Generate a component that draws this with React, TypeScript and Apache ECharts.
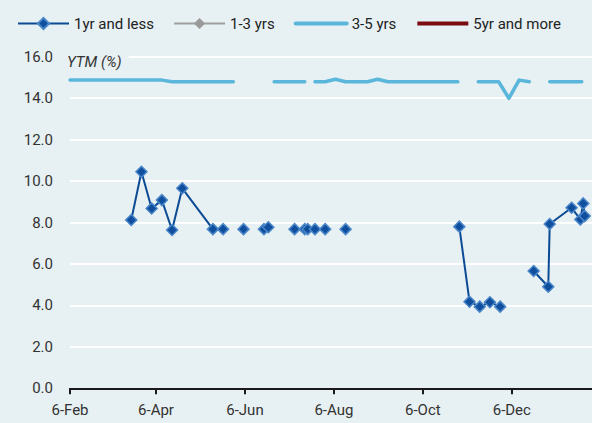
import React, { useEffect, useRef } from "react";
import * as echarts from "echarts";

// ---------- data ----------
const legendNames = ["1yr and less", "1-3 yrs", "3-5 yrs", "5yr and more"];

const xTickDates = ["2017-02-06", "2017-04-06", "2017-06-06", "2017-08-06", "2017-10-06", "2017-12-06"];
const monthNames = ["Jan", "Feb", "Mar", "Apr", "May", "Jun", "Jul", "Aug", "Sep", "Oct", "Nov", "Dec"];

const yTickLabels = ["0.0", "2.0", "4.0", "6.0", "8.0", "10.0", "12.0", "14.0", "16.0"];

// 1yr and less (null = gap in the line)
const shortDates = [
  "2017-03-20", "2017-03-27", "2017-04-03", "2017-04-10", "2017-04-17", "2017-04-24",
  "2017-05-15", "2017-05-22", "2017-05-29", "2017-06-05", "2017-06-12",
  "2017-06-19", "2017-06-22", "2017-07-03",
  "2017-07-10", "2017-07-17", "2017-07-19", "2017-07-24", "2017-07-31", "2017-08-07",
  "2017-08-14", "2017-08-21",
  "2017-10-31", "2017-11-07", "2017-11-14", "2017-11-21", "2017-11-28", "2017-12-05",
  "2017-12-21", "2017-12-31", "2018-01-01", "2018-01-16", "2018-01-22", "2018-01-24", "2018-01-25",
];
const shortValues: (number | null)[] = [
  8.12, 10.45, 8.68, 9.08, 7.64, 9.65,
  7.68, 7.68, null, 7.68, null,
  7.68, 7.77, null,
  7.68, 7.68, 7.68, 7.68, 7.68, null,
  7.68, null,
  7.8, 4.18, 3.94, 4.15, 3.94, null,
  5.66, 4.9, 7.93, 8.71, 8.15, 8.92, 8.31,
];

// 1-3 yrs (no observations in the period)
const midDates: string[] = [];
const midValues: (number | null)[] = [];

// 3-5 yrs
const longDates = [
  "2017-02-06", "2017-04-10", "2017-04-17", "2017-05-29", "2017-06-05",
  "2017-06-26", "2017-07-17", "2017-07-19",
  "2017-07-24", "2017-07-31", "2017-08-07", "2017-08-14", "2017-08-29", "2017-09-05", "2017-09-12", "2017-10-30", "2017-11-03",
  "2017-11-13", "2017-11-27", "2017-12-04", "2017-12-11", "2017-12-18", "2017-12-25",
  "2018-01-01", "2018-01-23",
];
const longValues: (number | null)[] = [
  14.87, 14.87, 14.79, 14.79, null,
  14.79, 14.79, null,
  14.79, 14.79, 14.91, 14.79, 14.79, 14.91, 14.79, 14.79, null,
  14.79, 14.79, 13.99, 14.87, 14.79, null,
  14.79, 14.79,
];

// 5yr and more (no observations in the period)
const veryLongDates: string[] = [];
const veryLongValues: (number | null)[] = [];

const xMinDate = "2017-02-06";
const xMaxDate = "2018-01-30";

// ---------- helpers ----------
const DAY = 86400000;
const ts = (s: string) => {
  const [y, m, d] = s.split("-").map(Number);
  return Date.UTC(y, m - 1, d);
};
const dayIdx = (s: string) => Math.round((ts(s) - ts(xMinDate)) / DAY);
const dayLabel = (n: number) => {
  const d = new Date(ts(xMinDate) + Math.round(n) * DAY);
  return d.getUTCDate() + "-" + monthNames[d.getUTCMonth()];
};
const pairs = (dates: string[], vals: (number | null)[]) =>
  dates.map((d, i) => [dayIdx(d), vals[i] == null ? "-" : vals[i]]);

const FONT = "Roboto, 'Liberation Sans', sans-serif";
const BG = "#e7f0f2";
const FS = 15;

export default function App() {
  const ref = useRef<HTMLDivElement>(null);
  useEffect(() => {
    if (!ref.current) return;
    const chart = echarts.init(ref.current, null, { renderer: "svg" });
    const tickVals = xTickDates.map(dayIdx);
    const hidden = { color: "rgba(0,0,0,0)", borderWidth: 0, opacity: 0 };
    chart.setOption({
      animation: false,
      backgroundColor: BG,
      textStyle: { fontFamily: FONT },
      legend: {
        data: [
          { name: legendNames[0], lineStyle: { width: 2 } },
          { name: legendNames[1], lineStyle: { width: 2 } },
          { name: legendNames[2], itemStyle: hidden, lineStyle: { width: 4 } },
          { name: legendNames[3], itemStyle: hidden, lineStyle: { width: 4 } },
        ],
        left: 12,
        top: 11,
        width: 580,
        itemWidth: 51,
        itemHeight: 14,
        itemGap: 19,
        textStyle: { fontSize: FS, color: "#222", fontFamily: FONT },
      },
      grid: { left: 70, right: 0, top: 56.7, bottom: 423 - 388.3, containLabel: false },
      xAxis: {
        type: "value",
        min: 0,
        max: dayIdx(xMaxDate),
        axisLine: { show: true, lineStyle: { color: "#1a1a1a", width: 2 } },
        axisTick: { show: true, customValues: tickVals, length: 6, lineStyle: { color: "#1a1a1a", width: 2 } },
        axisLabel: {
          customValues: tickVals,
          margin: 14,
          fontSize: FS,
          color: "#333",
          fontFamily: FONT,
          formatter: (v: number) => dayLabel(v),
        },
        splitLine: { show: false },
      },
      yAxis: {
        type: "value",
        min: 0,
        max: 16,
        interval: 2,
        axisLine: { show: false },
        axisTick: { show: false },
        axisLabel: {
          margin: 17,
          fontSize: FS,
          color: "#333",
          fontFamily: FONT,
          formatter: (v: number) => yTickLabels[Math.round(v / 2)] ?? v.toFixed(1),
        },
        splitLine: { lineStyle: { color: "#ffffff", width: 2 } },
      },
      graphic: [
        {
          type: "text",
          left: 66,
          top: 54,
          z: 100,
          style: {
            text: "YTM (%)",
            font: "italic " + FS + "px " + FONT,
            fill: "#333",
            backgroundColor: BG,
            padding: [0, 7, 0, 1],
          },
        },
      ],
      series: [
        {
          name: legendNames[0],
          type: "line",
          data: pairs(shortDates, shortValues),
          connectNulls: false,
          showAllSymbol: true,
          symbol: "diamond",
          symbolSize: 11,
          lineStyle: { color: "#0b4a94", width: 2 },
          itemStyle: { color: "#0f4f9e", borderColor: "#4a86c8", borderWidth: 1.5 },
          z: 5,
        },
        {
          name: legendNames[1],
          type: "line",
          data: pairs(midDates, midValues),
          symbol: "diamond",
          symbolSize: 11,
          lineStyle: { color: "#a0a0a0", width: 2 },
          itemStyle: { color: "#9a9a9a" },
        },
        {
          name: legendNames[2],
          type: "line",
          data: pairs(longDates, longValues),
          connectNulls: false,
          symbol: "none",
          lineStyle: { color: "#5ab6da", width: 3.5, cap: "round", join: "round" },
          itemStyle: { color: "#5ab6da" },
          z: 3,
        },
        {
          name: legendNames[3],
          type: "line",
          data: pairs(veryLongDates, veryLongValues),
          symbol: "none",
          lineStyle: { color: "#7a0c10", width: 3.5 },
          itemStyle: { color: "#7a0c10" },
        },
      ],
    });
    return () => chart.dispose();
  }, []);
  return (
    <div
      ref={ref}
      style={{ position: "absolute", left: 0, top: 0, width: 592, height: 423 }}
    />
  );
}
